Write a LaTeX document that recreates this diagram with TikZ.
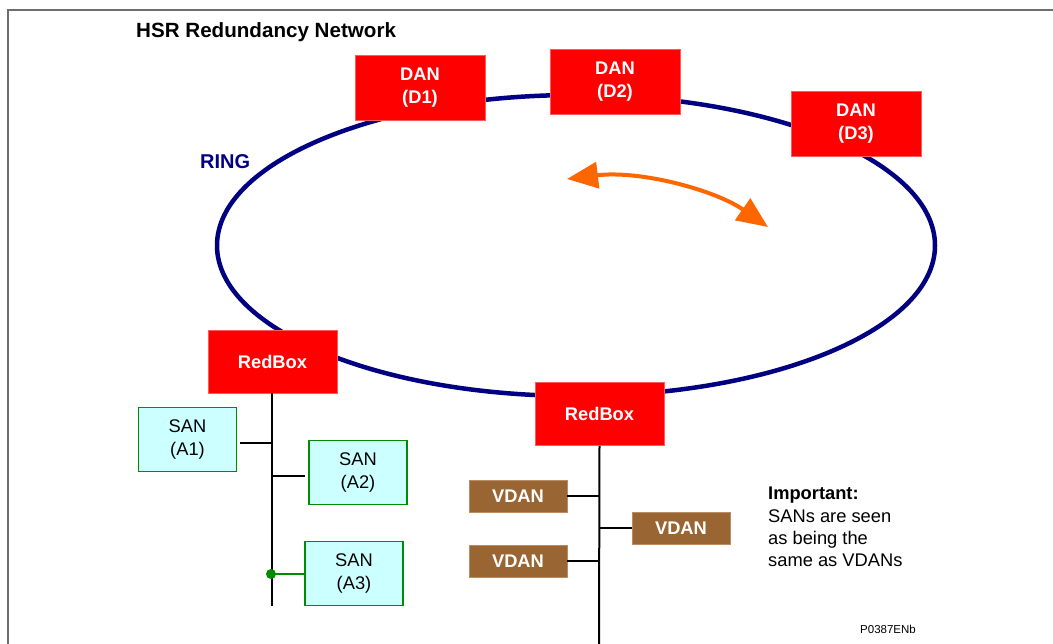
\documentclass[tikz,border=0pt]{standalone}
\usepackage{fontspec}
\setmainfont{Liberation Sans}
\usetikzlibrary{arrows.meta}
\definecolor{navyring}{RGB}{0,0,128}
\definecolor{boxred}{RGB}{255,0,0}
\definecolor{boxrededge}{RGB}{255,90,90}
\definecolor{sanfill}{RGB}{204,255,255}
\definecolor{sanedge}{RGB}{0,140,0}
\definecolor{vdanfill}{RGB}{153,102,51}
\definecolor{vdanedge}{RGB}{185,140,100}
\definecolor{arrorange}{RGB}{255,102,0}
\definecolor{framegray}{RGB}{110,110,110}
\begin{document}
\begin{tikzpicture}[x=1pt,y=-1pt,
  redbase/.style={fill=boxred, draw=boxrededge, line width=0.8, align=center,
    text=white, font=\fontsize{18.3}{22.5}\selectfont\bfseries, inner sep=0},
  danbox/.style={redbase, minimum width=130, minimum height=65},
  rbox/.style={redbase, minimum width=129, minimum height=63},
  sanbox/.style={fill=sanfill, draw=sanedge, line width=1.5, align=center,
    text=black, font=\fontsize{18.3}{22.8}\selectfont, inner sep=0,
    minimum width=98, minimum height=64},
  vdanbox/.style={fill=vdanfill, draw=vdanedge, line width=0.8, text=white,
    font=\fontsize{18.3}{22}\selectfont\bfseries, inner sep=0,
    minimum width=98, minimum height=32},
  bus/.style={black, line width=2},
  branch/.style={black, line width=1.5},
  lbl/.style={anchor=west, inner sep=0}]
\useasboundingbox (0,0) rectangle (1053,644);
% frame
\draw[framegray, line width=2] (8,644) -- (8,10) -- (1053,10);
% title
\node[lbl, font=\fontsize{20.6}{24}\selectfont\bfseries] (title) at (136,32) {HSR Redundancy Network};
% ring
\draw[navyring, line width=4.5] (576,245.5) ellipse [x radius=359, y radius=150.5];
\node[lbl, text=navyring, font=\fontsize{20}{24}\selectfont\bfseries] (ringlbl) at (200,162) {RING};
% DAN nodes
\node[danbox] (d1) at (420,87.5) {DAN\\(D1)};
\node[danbox] (d2) at (615,81.5) {DAN\\(D2)};
\node[danbox] (d3) at (856,123.5) {DAN\\(D3)};
% orange bidirectional arrow
\coordinate (al) at (567,179);
\coordinate (ar) at (768,227);
\draw[arrorange, line width=4, {Triangle[length=31,width=26]}-{Triangle[length=31,width=26]}]
  (al) .. controls (640,170) and (715,190) .. (ar);
% RedBoxes
\node[rbox] (rb1) at (272.5,361.5) {RedBox};
\node[rbox] (rb2) at (599.5,414) {RedBox};
% left bus
\coordinate (lbend) at (272,606);
\draw[bus] (rb1.south -| lbend) -- (lbend);
\node[sanbox] (a1) at (187.5,439.5) {SAN\\(A1)};
\node[sanbox] (a2) at (358,472.5) {SAN\\(A2)};
\node[sanbox] (a3) at (354,573.5) {SAN\\(A3)};
\coordinate (j1) at (272,443);
\coordinate (j2) at (272,476);
\coordinate (j3) at (271,574);
\draw[branch] ([xshift=3pt]a1.east |- j1) -- (j1);
\draw[branch] (j2) -- ([xshift=-3pt]a2.west |- j2);
\draw[sanedge, line width=1.5] (j3) -- (a3.west |- j3);
\fill[sanedge] (j3) circle (5);
% right bus
\coordinate (rbend) at (599,646);
\draw[bus] (rb2.south) -- (rbend);
\node[vdanbox] (v1) at (518,496) {VDAN};
\node[vdanbox] (v2) at (681,528) {VDAN};
\node[vdanbox] (v3) at (518,561) {VDAN};
\coordinate (k1) at (599,496);
\coordinate (k2) at (599,528);
\coordinate (k3) at (599,561);
\draw[branch] (v1.east) -- (k1);
\draw[branch] (k2) -- (v2.west);
\draw[branch] (v3.east) -- (k3);
% note
\node[lbl, anchor=north west, align=left, font=\fontsize{18.3}{22.3}\selectfont] (note) at (768,487)
  {\textbf{Important:}\\SANs are seen\\as being the\\same as VDANs};
\node[lbl, font=\fontsize{11.5}{13}\selectfont] (code) at (860,629) {P0387ENb};
\end{tikzpicture}
\end{document}
